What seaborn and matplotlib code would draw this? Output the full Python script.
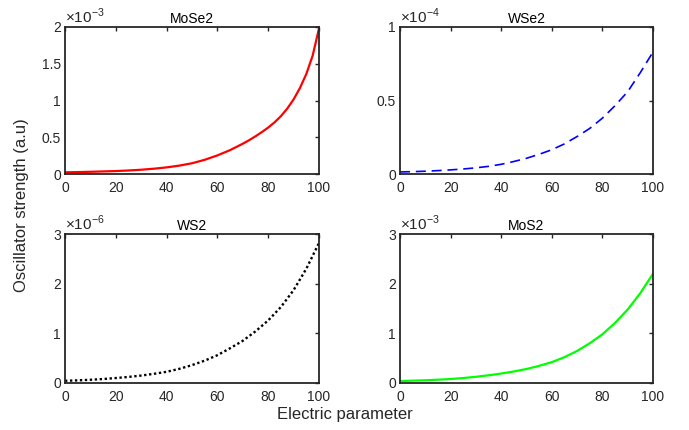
import numpy as np
import pandas as pd
import matplotlib
matplotlib.use("Agg")
import matplotlib.pyplot as plt
import seaborn as sns
from matplotlib.ticker import FuncFormatter, MultipleLocator

# ---- data ----
x_mose2 = [0, 5, 10, 15, 20, 25, 30, 35, 40, 45, 50, 55, 60, 65, 70, 72.5, 75, 77.5, 80,
           82.5, 85, 87.5, 90, 92.5, 95, 97.5, 100]
mose2 = [0.023, 0.026, 0.030, 0.035, 0.040, 0.048, 0.058, 0.072, 0.090, 0.114, 0.146,
         0.193, 0.253, 0.325, 0.412, 0.460, 0.513, 0.570, 0.632,
         0.703, 0.787, 0.890, 1.015, 1.170, 1.360, 1.610, 1.980]          # x1e-3

x_std = [0, 5, 10, 15, 20, 25, 30, 35, 40, 45, 50, 55, 60, 65, 70, 75, 80, 85, 90, 95, 100]
wse2 = [0.014, 0.016, 0.019, 0.023, 0.028, 0.034, 0.042, 0.052, 0.066, 0.085, 0.107,
        0.134, 0.165, 0.205, 0.255, 0.310, 0.380, 0.465, 0.560, 0.690, 0.830]  # x1e-4
ws2 = [0.045, 0.053, 0.065, 0.080, 0.100, 0.122, 0.150, 0.185, 0.225, 0.285, 0.360,
       0.450, 0.560, 0.700, 0.850, 1.040, 1.260, 1.530, 1.870, 2.300, 2.820]   # x1e-6
mos2 = [0.040, 0.047, 0.055, 0.066, 0.080, 0.100, 0.125, 0.155, 0.190, 0.232, 0.282,
        0.345, 0.420, 0.520, 0.645, 0.800, 0.980, 1.210, 1.480, 1.810, 2.200]  # x1e-3

titles = ["MoSe2", "WSe2", "WS2", "MoS2"]
exponents = [-3, -4, -6, -3]
ymax = [2, 1, 3, 3]
ystep = [0.5, 0.5, 1, 1]
xs = [x_mose2, x_std, x_std, x_std]
series = [mose2, wse2, ws2, mos2]
colors = ["#FF0000", "#0000FF", "#000000", "#00FF00"]

sns.set_style("white")
plt.rcParams["font.family"] = ["Liberation Sans", "DejaVu Sans"]
plt.rcParams["mathtext.fontset"] = "custom"
plt.rcParams["mathtext.rm"] = "Liberation Sans"

fig = plt.figure(figsize=(6.89, 4.30), dpi=100)
W, H = 689, 430
boxes = [(65, 27, 319, 174), (400, 27, 653, 174), (65, 234, 319, 383), (400, 234, 653, 383)]

dark = "#262626"
for i, (l, t, r, b) in enumerate(boxes):
    ax = fig.add_axes([l / W, 1 - b / H, (r - l) / W, (b - t) / H])
    e = exponents[i]
    df = pd.DataFrame({"x": xs[i], "y": np.array(series[i]) * 10.0 ** e})
    if i == 1:
        sns.lineplot(data=df, x="x", y="y", ax=ax, color=colors[i], lw=1.2)
        ax.lines[0].set_dashes((6, 3.5))
    elif i == 2:
        sns.lineplot(data=df, x="x", y="y", ax=ax, color=colors[i], lw=1.7)
        ax.lines[0].set_dashes((1, 1.1))
    else:
        sns.lineplot(data=df, x="x", y="y", ax=ax, color=colors[i], lw=1.6)
    ax.set_xlim(0, 100)
    ax.set_ylim(0, ymax[i] * 10.0 ** e)
    ax.xaxis.set_major_locator(MultipleLocator(20))
    ax.yaxis.set_major_locator(MultipleLocator(ystep[i] * 10.0 ** e))
    ax.yaxis.set_major_formatter(FuncFormatter(lambda v, p, e=e: "%g" % round(v / 10.0 ** e, 6)))
    ax.set_xlabel("")
    ax.set_ylabel("")
    ax.tick_params(direction="in", length=3, width=1.0, top=True, right=True,
                   labelsize=10, colors=dark, pad=3)
    ax.tick_params(axis="x", pad=5)
    for s in ax.spines.values():
        s.set_visible(True)
        s.set_color(dark)
        s.set_linewidth(1.3)
    ax.set_title(titles[i], fontsize=10, color="black", pad=3)
    ax.text(0.0, 1.01, r"$\times10^{%d}$" % e, transform=ax.transAxes,
            ha="left", va="bottom", fontsize=11, color=dark)

fig.text(22 / W, 1 - 205 / H, "Oscillator strength (a.u)", rotation=90,
         ha="center", va="center", fontsize=12, color=dark)
fig.text(345 / W, 1 - 415 / H, "Electric parameter", ha="center", va="center",
         fontsize=12, color=dark)

fig.savefig("out.png", dpi=100)
